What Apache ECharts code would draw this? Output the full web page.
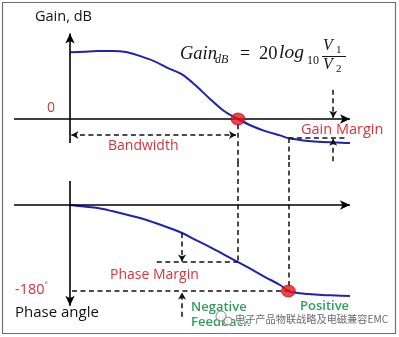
<!DOCTYPE html>
<html><head><meta charset="utf-8">
<script src="https://cdn.jsdelivr.net/npm/echarts@6/dist/echarts.min.js"></script>
<style>html,body{margin:0;padding:0;background:#fff}#c{width:399px;height:337px}</style>
</head><body><div id="c"></div>
<script>
// ---- data (normalized frequency, gain in dB, phase in degrees) ----
const freq     = [0,0.5,1,1.5,2,2.5,3,3.5,4,4.5,5,5.5,6,6.5,7,7.5,7.8,8,8.5,9,9.5,10];
const gainDb   = [19.9,20.1,20.3,20.3,20.0,18.8,17.3,15.2,13.3,9.9,6.0,2.4,0,-2.1,-3.7,-4.9,-5.7,-6.0,-6.6,-6.9,-7.0,-7.2];
const phaseDeg = [0,-3.1,-6.3,-12.6,-19.9,-27.2,-36.6,-47.1,-58.6,-73.3,-87.9,-103.6,-119.3,-135.0,-151.7,-167.4,-180,-183.1,-186.3,-188.4,-189.4,-190.5];
const crossoverFreq   = 6;    // gain = 0 dB
const phaseCrossFreq  = 7.8;  // phase = -180 deg
const phaseMarginFreq = 4;
const gainMarginFreq  = 9.4;
const bandwidthLevel  = -4.8; // dB
const axisXRange      = [-2, 10];
const gainAxisRange   = [-7.2, 25.5];
const phaseAxisRange  = [50, -211];
const gainLimits      = [-13, 26];
const phaseLimits     = [-240, 90];

const at = (arr, f) => arr[freq.indexOf(f)];
const gainAtPC  = at(gainDb, phaseCrossFreq);
const phaseAtCO = at(phaseDeg, crossoverFreq);
const phaseAtPM = at(phaseDeg, phaseMarginFreq);

const RED = '#d8343c', GREEN = '#2f9e5c', BLUE = '#2020b4';
const SANS = '"Open Sans", sans-serif';

const axisML = (data) => ({
  silent: true, animation: false, symbol: ['none', 'arrow'], symbolSize: [7, 10],
  label: { show: false }, emphasis: { disabled: true },
  lineStyle: { color: '#000', width: 1.6, type: 'solid' }, data
});
const dashML = (data) => ({
  silent: true, animation: false, symbol: ['none', 'none'], symbolSize: [6, 7],
  label: { show: false }, emphasis: { disabled: true },
  lineStyle: { color: '#111', width: 1.5, type: [5, 3.5] }, data
});
const ar = (c) => ({ coord: c, symbol: 'arrow' });
const pt = (c) => ({ coord: c, symbol: 'none' });

const gainData  = freq.map((f, i) => [f, gainDb[i]]);
const phaseData = freq.map((f, i) => [f, phaseDeg[i]]);

const txt = (text, x, y, fill, size, extra) => ({
  type: 'text', x, y, silent: true,
  style: Object.assign({ text, fill, fontSize: size, fontFamily: SANS,
    align: 'left', verticalAlign: 'middle', textAlign: 'left', textVerticalAlign: 'middle' }, extra || {})
});
const SERIF = '"Liberation Serif", serif';
// baseline-positioned math text
const mt = (text, x, base, size, italic) => ({
  type: 'text', x, y: base - 0.34 * size, silent: true,
  style: { text, fill: '#151515', fontSize: size, fontFamily: SERIF, fontStyle: italic ? 'italic' : 'normal',
    align: 'left', verticalAlign: 'middle', textAlign: 'left', textVerticalAlign: 'middle' }
});

const chart = echarts.init(document.getElementById('c'), null, { renderer: 'canvas' });
chart.setOption({
  animation: false,
  backgroundColor: '#fff',
  grid: [
    { left: 14, right: 49, top: 31.9, height: 130.65 },
    { left: 14, right: 49, top: 162, height: 157.7 }
  ],
  xAxis: [
    { type: 'value', gridIndex: 0, min: axisXRange[0], max: axisXRange[1], show: false },
    { type: 'value', gridIndex: 1, min: axisXRange[0], max: axisXRange[1], show: false }
  ],
  yAxis: [
    { type: 'value', gridIndex: 0, min: gainLimits[0], max: gainLimits[1], show: false },
    { type: 'value', gridIndex: 1, min: phaseLimits[0], max: phaseLimits[1], show: false }
  ],
  series: [
    { type: 'line', xAxisIndex: 0, yAxisIndex: 0, data: gainData, showSymbol: false, symbol: 'none',
      smooth: 0.35, lineStyle: { color: BLUE, width: 2 }, z: 3,
      markLine: axisML([
        [pt([axisXRange[0], 0]), ar([axisXRange[1], 0])],
        [pt([0, gainAxisRange[0]]), ar([0, gainAxisRange[1]])]
      ]) },
    { type: 'line', xAxisIndex: 0, yAxisIndex: 0, data: gainData, symbol: 'none',
      lineStyle: { opacity: 0, width: 0 }, z: 2,
      markLine: dashML([
        [ar([0.05, bandwidthLevel]), ar([crossoverFreq - 0.07, bandwidthLevel])],
        [pt([crossoverFreq, -1.6]), pt([crossoverFreq, gainLimits[0]])],
        [pt([phaseCrossFreq, gainAtPC]), pt([phaseCrossFreq, gainLimits[0]])],
        [pt([phaseCrossFreq, gainAtPC]), pt([9.9, gainAtPC])],
        [pt([gainMarginFreq, 8.7]), ar([gainMarginFreq, 0.4])],
        [pt([gainMarginFreq, -12.6]), ar([gainMarginFreq, gainAtPC - 0.2])]
      ]) },
    { type: 'line', xAxisIndex: 1, yAxisIndex: 1, data: phaseData, showSymbol: false, symbol: 'none',
      smooth: 0.35, lineStyle: { color: BLUE, width: 2 }, z: 3,
      markLine: axisML([
        [pt([axisXRange[0], 0]), ar([axisXRange[1], 0])],
        [pt([0, phaseAxisRange[0]]), ar([0, phaseAxisRange[1]])]
      ]) },
    { type: 'line', xAxisIndex: 1, yAxisIndex: 1, data: phaseData, symbol: 'none',
      lineStyle: { opacity: 0, width: 0 }, z: 2,
      markLine: dashML([
        [pt([crossoverFreq, phaseLimits[1]]), pt([crossoverFreq, phaseAtCO])],
        [pt([phaseCrossFreq, phaseLimits[1]]), pt([phaseCrossFreq, -180])],
        [pt([3.1, phaseAtCO]), pt([crossoverFreq, phaseAtCO])],
        [pt([phaseMarginFreq, phaseAtPM]), ar([phaseMarginFreq, phaseAtCO + 1])],
        [pt([0.07, -180]), pt([phaseCrossFreq, -180])],
        [pt([phaseMarginFreq, -234]), ar([phaseMarginFreq, -183])]
      ]) },
    { type: 'scatter', xAxisIndex: 0, yAxisIndex: 0, data: [[crossoverFreq, 0]], symbol: 'circle',
      symbolSize: [14, 12], itemStyle: { color: '#e8141c', borderColor: '#a00', borderWidth: 0.8 }, z: 5, silent: true },
    { type: 'scatter', xAxisIndex: 1, yAxisIndex: 1, data: [[phaseCrossFreq, -180]], symbol: 'circle',
      symbolSize: [14, 12], itemStyle: { color: '#e8141c', borderColor: '#a00', borderWidth: 0.8 }, z: 5, silent: true }
  ],
  graphic: [
    { type: 'rect', silent: true, shape: { x: 2.5, y: 2.5, width: 393, height: 331 },
      style: { fill: 'none', stroke: '#707070', lineWidth: 1.2 } },
    txt('Gain, dB', 35, 17, '#111', 14.5),
    txt('0', 47, 108, RED, 14),
    txt('Bandwidth', 108, 146, RED, 14),
    txt('Gain Margin', 301, 130, RED, 14.5),
    txt('Phase Margin', 110, 275, RED, 14),
    { type: 'text', x: 15, y: 290, silent: true,
      style: { text: '{a|-180}{b|°}', verticalAlign: 'middle', textVerticalAlign: 'middle',
        rich: { a: { fontFamily: SANS, fontSize: 14.5, fill: RED, lineHeight: 18, verticalAlign: 'middle' },
                b: { fontFamily: SANS, fontSize: 8, fill: RED, lineHeight: 18, verticalAlign: 'top' } } } },
    txt('Phase angle', 15, 313, '#111', 15),
    txt('Negative', 191, 307, GREEN, 13, { fontWeight: 600 }),
    txt('Feedback', 191, 322, GREEN, 13, { fontWeight: 600 }),
    txt('Positive', 300, 306, GREEN, 13, { fontWeight: 600 }),
    // formula
    mt('Gain', 180, 60, 18.5, true),
    mt('dB', 215, 63.5, 12, true),
    mt('=', 240, 60, 18, false),
    mt('20', 259, 60, 18.5, false),
    mt('log', 279, 60, 19.5, true),
    mt('10', 307, 64.5, 12, false),
    mt('V', 323, 51, 16, true),
    mt('1', 336, 53.5, 11, false),
    { type: 'line', silent: true, shape: { x1: 322, y1: 56.5, x2: 346, y2: 56.5 }, style: { stroke: '#151515', lineWidth: 1 } },
    mt('V', 323, 70, 16, true),
    mt('2', 336, 72.5, 11, false),
    // watermark
    { type: 'circle', silent: true, shape: { cx: 221, cy: 316, r: 5 }, style: { fill: 'rgba(255,255,255,0.8)', stroke: '#888', lineWidth: 1 } },
    { type: 'circle', silent: true, shape: { cx: 228, cy: 321, r: 4 }, style: { fill: 'rgba(255,255,255,0.8)', stroke: '#888', lineWidth: 1 } },
    txt('电子产品物联战略及电磁兼容EMC', 235, 319, 'rgba(90,90,90,0.9)', 10.2,
      { fontFamily: '"Noto Sans CJK SC", sans-serif', stroke: 'rgba(255,255,255,0.85)', lineWidth: 2 })
  ]
});
</script></body></html>
